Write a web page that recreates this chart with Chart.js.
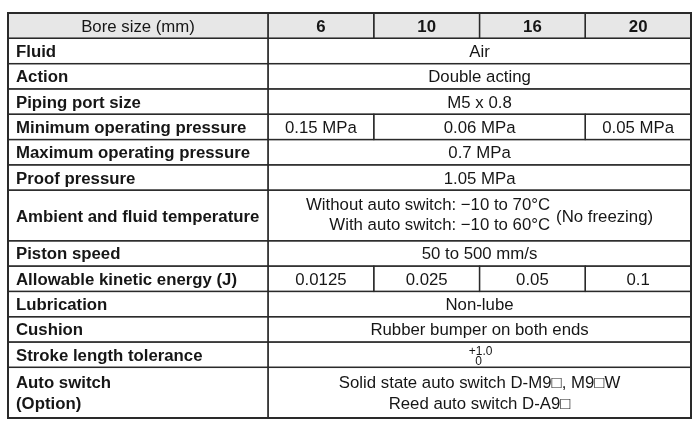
<!DOCTYPE html>
<html>
<head>
<meta charset="utf-8">
<script src="https://cdn.jsdelivr.net/npm/chart.js@4.4.1/dist/chart.umd.min.js"></script>
<style>
  html, body { margin: 0; padding: 0; background: #fff; }
  #specChart { display: block; }
</style>
</head>
<body>
<canvas id="specChart" width="700" height="429"></canvas>
<script>
// table content
const headerLabel = 'Bore size (mm)';
const boreSizes = ['6', '10', '16', '20'];

const rowLabels = [
    ['Fluid'],
    ['Action'],
    ['Piping port size'],
    ['Minimum operating pressure'],
    ['Maximum operating pressure'],
    ['Proof pressure'],
    ['Ambient and fluid temperature'],
    ['Piston speed'],
    ['Allowable kinetic energy (J)'],
    ['Lubrication'],
    ['Cushion'],
    ['Stroke length tolerance'],
    ['Auto switch', '(Option)']
];
const rowHeights = [1, 1, 1, 1, 1, 1, 2, 1, 1, 1, 1, 1, 2];

const rowValues = [
    ['Air'],
    ['Double acting'],
    ['M5 x 0.8'],
    ['0.15 MPa', '0.06 MPa', '0.05 MPa'],
    ['0.7 MPa'],
    ['1.05 MPa'],
    [''],   // temperature, see below
    ['50 to 500 mm/s'],
    ['0.0125', '0.025', '0.05', '0.1'],
    ['Non-lube'],
    ['Rubber bumper on both ends'],
    [''],   // tolerance, see below
    ['Solid state auto switch D-M9\u25A1, M9\u25A1W\nReed auto switch D-A9\u25A1']
];
const rowColSpans = [[4], [4], [4], [1, 2, 1], [4], [4], [4], [4], [1, 1, 1, 1], [4], [4], [4], [4]];

const temperatureLines = ['Without auto switch: \u221210 to 70\u00B0C', 'With auto switch: \u221210 to 60\u00B0C'];
const temperatureNote = '(No freezing)';
const toleranceLimits = ['+1.0', '0'];

// look
const LABEL_COL_UNITS = 2.46;      // width of the label column, in bore columns
const FONT = '"Liberation Sans", Arial, sans-serif';
const FONT_SIZE = 16.8;
const LINE_GAP = 21.5;
const TEXT_COLOR = '#161616';
const LINE_COLOR = '#2a2a2a';
const HEADER_FILL = '#e7e7e7';

const totalUnits = 1 + rowHeights.reduce((a, b) => a + b, 0);

function drawLines(ctx, lines, cx, cy, align, size, gap) {
    const capH = size * 0.716;
    const step = gap || LINE_GAP;
    ctx.textAlign = align;
    ctx.textBaseline = 'alphabetic';
    lines.forEach((t, i) => {
        ctx.fillText(t, cx, cy + capH / 2 + (i - (lines.length - 1) / 2) * step);
    });
}

const specTable = {
    id: 'specTable',
    afterDraw(chart) {
        const ctx = chart.ctx;
        const xs = chart.scales.x;
        const ys = chart.scales.y;
        const rect = (c0, c1, r0, r1) => ({
            L: xs.getPixelForValue(c0), R: xs.getPixelForValue(c1),
            T: ys.getPixelForValue(r0), B: ys.getPixelForValue(r1)
        });
        const cells = [];

        ctx.save();
        // header
        const hLabel = rect(-LABEL_COL_UNITS, 0, 0, 1);
        cells.push(hLabel);
        boreSizes.forEach((b, i) => cells.push(rect(i, i + 1, 0, 1)));
        ctx.fillStyle = HEADER_FILL;
        ctx.fillRect(hLabel.L, hLabel.T, xs.getPixelForValue(boreSizes.length) - hLabel.L, hLabel.B - hLabel.T);

        ctx.fillStyle = TEXT_COLOR;
        ctx.font = FONT_SIZE + 'px ' + FONT;
        drawLines(ctx, [headerLabel], (hLabel.L + hLabel.R) / 2, (hLabel.T + hLabel.B) / 2, 'center', FONT_SIZE);
        ctx.font = 'bold ' + FONT_SIZE + 'px ' + FONT;
        boreSizes.forEach((b, i) => {
            const r = rect(i, i + 1, 0, 1);
            drawLines(ctx, [b], (r.L + r.R) / 2, (r.T + r.B) / 2, 'center', FONT_SIZE);
        });

        // body rows
        let r0 = 1;
        rowLabels.forEach((label, ri) => {
            const r1 = r0 + rowHeights[ri];
            const lc = rect(-LABEL_COL_UNITS, 0, r0, r1);
            cells.push(lc);
            ctx.font = 'bold ' + FONT_SIZE + 'px ' + FONT;
            drawLines(ctx, label, lc.L + 8, (lc.T + lc.B) / 2, 'left', FONT_SIZE);

            let c0 = 0;
            rowValues[ri].forEach((val, ci) => {
                const c1 = c0 + rowColSpans[ri][ci];
                const vc = rect(c0, c1, r0, r1);
                cells.push(vc);
                const cx = (vc.L + vc.R) / 2, cy = (vc.T + vc.B) / 2;
                ctx.font = FONT_SIZE + 'px ' + FONT;
                if (label[0] === 'Ambient and fluid temperature') {
                    const lineW = Math.max(...temperatureLines.map(t => ctx.measureText(t).width));
                    const noteW = ctx.measureText(temperatureNote).width;
                    const gap = 6;
                    const start = cx - (lineW + gap + noteW) / 2;
                    drawLines(ctx, temperatureLines, start + lineW, cy - 1.3, 'right', FONT_SIZE, 20);
                    drawLines(ctx, [temperatureNote], start + lineW + gap, cy, 'left', FONT_SIZE);
                } else if (label[0] === 'Stroke length tolerance') {
                    const small = 12;
                    ctx.font = small + 'px ' + FONT;
                    drawLines(ctx, [toleranceLimits[0]], cx + 1, cy - 4, 'center', small);
                    drawLines(ctx, [toleranceLimits[1]], cx - 1, cy + 5.5, 'center', small);
                } else {
                    drawLines(ctx, val.split('\n'), cx, cy, 'center', FONT_SIZE);
                }
                c0 = c1;
            });
            r0 = r1;
        });

        // grid lines
        ctx.strokeStyle = LINE_COLOR;
        ctx.lineWidth = 1.3;
        cells.forEach(c => ctx.strokeRect(c.L, c.T, c.R - c.L, c.B - c.T));
        const outer = rect(-LABEL_COL_UNITS, boreSizes.length, 0, totalUnits);
        ctx.lineWidth = 2;
        ctx.strokeRect(outer.L, outer.T, outer.R - outer.L, outer.B - outer.T);
        ctx.restore();
    }
};

const specChart = new Chart(document.getElementById('specChart'), {
    type: 'scatter',
    data: { datasets: [] },
    options: {
        responsive: false,
        animation: false,
        layout: { padding: { left: 8, right: 9, top: 13, bottom: 11 } },
        plugins: { legend: { display: false }, tooltip: { enabled: false } },
        scales: {
            x: { type: 'linear', min: -LABEL_COL_UNITS, max: boreSizes.length, offset: false, display: false },
            y: { type: 'linear', min: 0, max: totalUnits, reverse: true, offset: false, display: false }
        }
    },
    plugins: [specTable]
});
</script>
</body>
</html>
